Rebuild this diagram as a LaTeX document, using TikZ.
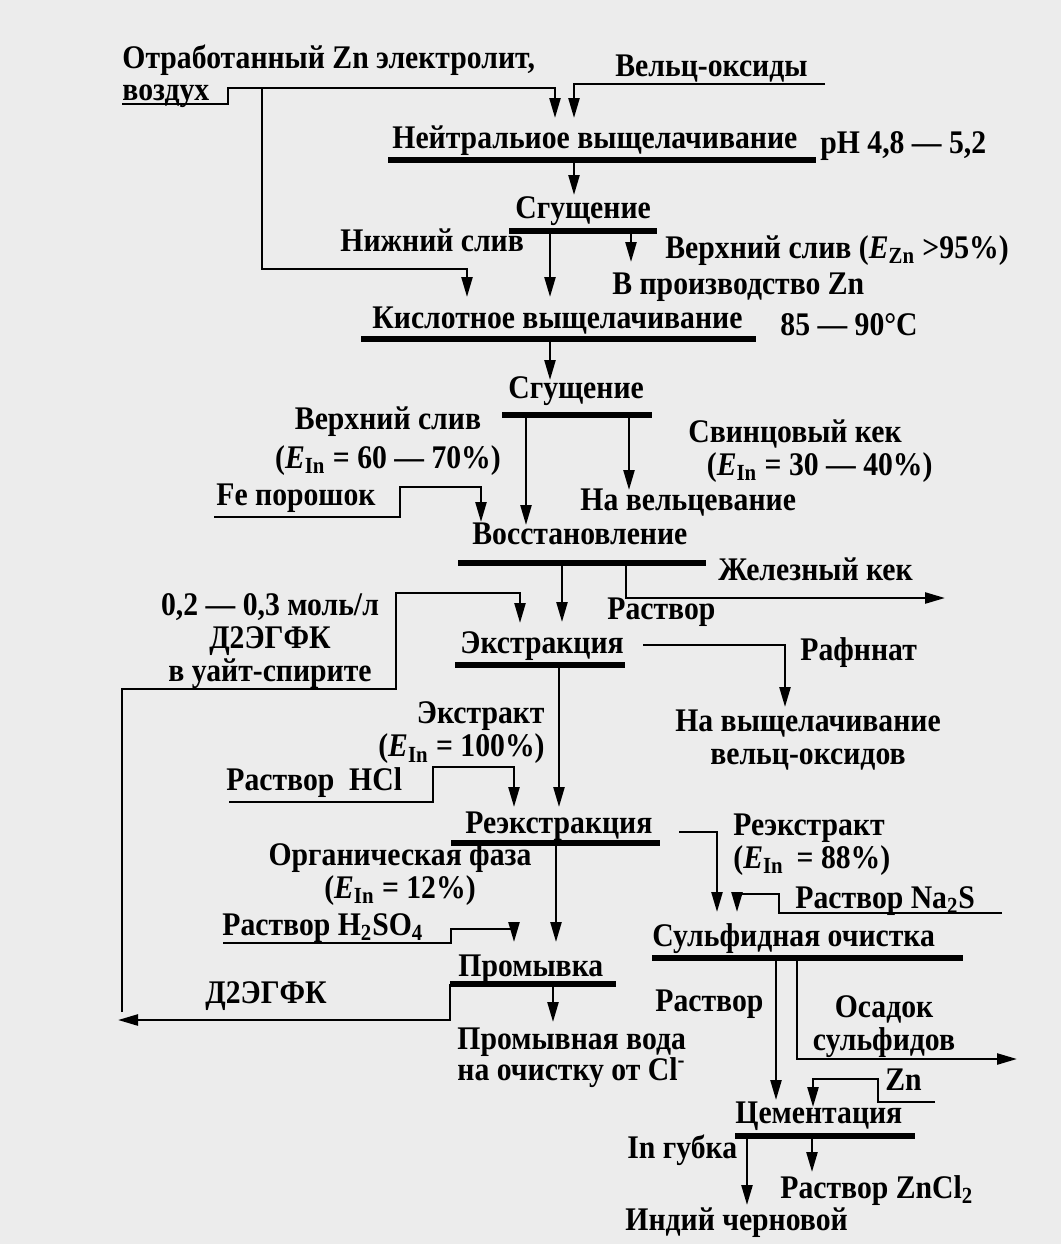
\documentclass[tikz,border=0pt]{standalone}
\usepackage{fontspec}
\setmainfont{Liberation Serif}[FakeStretch=0.9]
\usepackage{tikz}
\usetikzlibrary{arrows.meta}
\definecolor{paper}{RGB}{236, 236, 236}
\tikzset{
  txt/.style={font=\bfseries\fontsize{16.5}{16.5}\selectfont, inner sep=0pt, anchor=west},
  lbl/.style={txt, text height=10.5pt, text depth=2.5pt},
  flow/.style={line width=1.2pt, -{Triangle[length=10pt, width=5.5pt]}},
  bar/.style={line width=2.8pt}
}
\newcommand{\Ein}{\textit{E}\textsubscript{In}}

\begin{document}
\begin{tikzpicture}[x=0.5pt, y=-0.5pt]

  \fill[paper] (0, 0) rectangle (1061, 1244);
  \useasboundingbox (0, 0) rectangle (1061, 1244);

  % texts
  \node[lbl] (spent) at (122, 60) {Отработанный Zn электролит,};
  \node[lbl] (air) at (122, 92) {воздух};
  \node[lbl] (welz) at (615, 68) {Вельц-оксиды};
  \node[lbl] (nleach) at (392, 140) {Нейтральиое выщелачивание};
  \node[lbl] (ph) at (820, 145) {pH 4,8 — 5,2};
  \node[lbl] (thickA) at (515, 210) {Сгущение};
  \node[lbl] (underA) at (340, 243) {Нижний слив};
  \node[lbl] (overA) at (665, 250) {Верхний слив (\textit{E}\textsubscript{Zn} >95\%)};
  \node[lbl] (tozn) at (612, 286) {В производство Zn};
  \node[lbl] (aleach) at (372, 320) {Кислотное выщелачивание};
  \node[lbl] (temp) at (780, 327) {85 — 90°С};
  \node[lbl] (thickB) at (508, 390) {Сгущение};
  \node[txt, anchor=center, align=center] (overB) at (388, 441) {Верхний слив\\[3pt](\Ein{} = 60 — 70\%)};
  \node[txt, anchor=center, align=center] (pbcake) at (795, 451) {Свинцовый кек\\\hspace*{1.5em}(\Ein{} = 30 — 40\%)};
  \node[lbl] (towelz) at (580, 502) {На вельцевание};
  \node[lbl] (fe) at (216, 497) {Fe порошок};
  \node[lbl] (reduc) at (472, 536) {Восстановление};
  \node[lbl] (fecake) at (718, 572) {Железный кек};
  \node[lbl] (solA) at (607, 611) {Раствор};
  \node[txt, anchor=center, align=center] (extrin) at (270, 641) {0,2 — 0,3 моль/л\\Д2ЭГФК\\в уайт-спирите};
  \node[lbl] (extr) at (460, 645) {Экстракция};
  \node[lbl] (raff) at (800, 652) {Рафннат};
  \node[txt, anchor=center, align=center] (toleach) at (808, 740) {На выщелачивание\\вельц-оксидов};
  \node[txt, anchor=east, align=right] (extract) at (545, 733) {Экстракт\\(\Ein{} = 100\%)};
  \node[lbl] (hcl) at (226, 782) {Раствор\ \ HCl};
  \node[lbl] (strip) at (465, 825) {Реэкстракция};
  \node[txt, align=left] (stripped) at (733, 845) {Реэкстракт\\(\Ein{} \,= 88\%)};
  \node[txt, anchor=center, align=center] (orgph) at (400, 874) {Органическая фаза\\(\Ein{} = 12\%)};
  \node[lbl] (acid) at (222, 927) {Раствор H\textsubscript{2}SO\textsubscript{4}};
  \node[lbl] (wash) at (458, 968) {Промывка};
  \node[lbl] (d2) at (205, 995) {Д2ЭГФК};
  \node[lbl] (washw) at (457, 1041) {Промывная вода};
  \node[lbl] (washcl) at (457, 1072) {на очистку от Cl\textsuperscript{-}};
  \node[lbl] (na2s) at (795, 900) {Раствор Na\textsubscript{2}S};
  \node[lbl] (sulf) at (652, 938) {Сульфидная очистка};
  \node[lbl] (solB) at (655, 1003) {Раствор};
  \node[txt, anchor=center, align=center] (prec) at (884, 1027) {Осадок\\сульфидов};
  \node[lbl] (zn) at (885, 1082) {Zn};
  \node[lbl] (cem) at (735, 1115) {Цементация};
  \node[lbl] (sponge) at (627, 1150) {In губка};
  \node[lbl] (zncl) at (780, 1190) {Раствор ZnCl\textsubscript{2}};
  \node[lbl] (crude) at (625, 1222) {Индий черновой};

  % process bars
  \draw[bar] (388, 160) -- (816, 160);
  \draw[bar] (509, 231) -- (657, 231);
  \draw[bar] (361, 339) -- (756, 339);
  \draw[bar] (502, 415) -- (652, 415);
  \draw[bar] (458, 563) -- (706, 563);
  \draw[bar] (455, 665) -- (625, 665);
  \draw[bar] (451, 843) -- (660, 843);
  \draw[bar] (450, 984) -- (616, 984);
  \draw[bar] (652, 958) -- (963, 958);
  \draw[bar] (735, 1136) -- (915, 1136);

  % feeds
  \draw[flow] (122, 104) -- (228, 104) -- (228, 88) -- (555, 88) -- (555, 118);
  \draw[flow] (262, 88) -- (262, 269) -- (467, 269) -- (467, 297);
  \draw[flow] (825, 84) -- (574, 84) -- (574, 118);
  \draw[flow] (214, 517) -- (400, 517) -- (400, 487) -- (481, 487) -- (481, 522);
  \draw[flow] (122, 1012) -- (122, 689) -- (396, 689) -- (396, 593) -- (520, 593) -- (520, 623);
  \draw[flow] (229, 802) -- (433, 802) -- (433, 767) -- (514, 767) -- (514, 807);
  \draw[flow] (223, 943) -- (451, 943) -- (451, 929) -- (514, 929) -- (514, 942);
  \draw[flow] (1002, 913) -- (779, 913) -- (779, 894) -- (737, 894) -- (737, 912);
  \draw[flow] (935, 1102) -- (878, 1102) -- (878, 1079) -- (813, 1079) -- (813, 1107);

  % products
  \draw[flow] (574, 160) -- (574, 195);
  \draw[flow] (550, 231) -- (550, 297);
  \draw[flow] (631, 231) -- (631, 262);
  \draw[flow] (550, 339) -- (550, 380);
  \draw[flow] (526, 415) -- (526, 525);
  \draw[flow] (629, 415) -- (629, 490);
  \draw[flow] (562, 563) -- (562, 622);
  \draw[flow] (626, 563) -- (626, 598) -- (945, 598);
  \draw[flow] (643, 645) -- (785, 645) -- (785, 707);
  \draw[flow] (559, 665) -- (559, 807);
  \draw[flow] (679, 832) -- (717, 832) -- (717, 912);
  \draw[flow] (556, 843) -- (556, 942);
  \draw[flow] (450, 984) -- (450, 1020) -- (118, 1020);
  \draw[flow] (553, 984) -- (553, 1022);
  \draw[flow] (776, 958) -- (776, 1100);
  \draw[flow] (797, 958) -- (797, 1059) -- (1017, 1059);
  \draw[flow] (747, 1136) -- (747, 1205);
  \draw[flow] (812, 1136) -- (812, 1172);

\end{tikzpicture}
\end{document}
